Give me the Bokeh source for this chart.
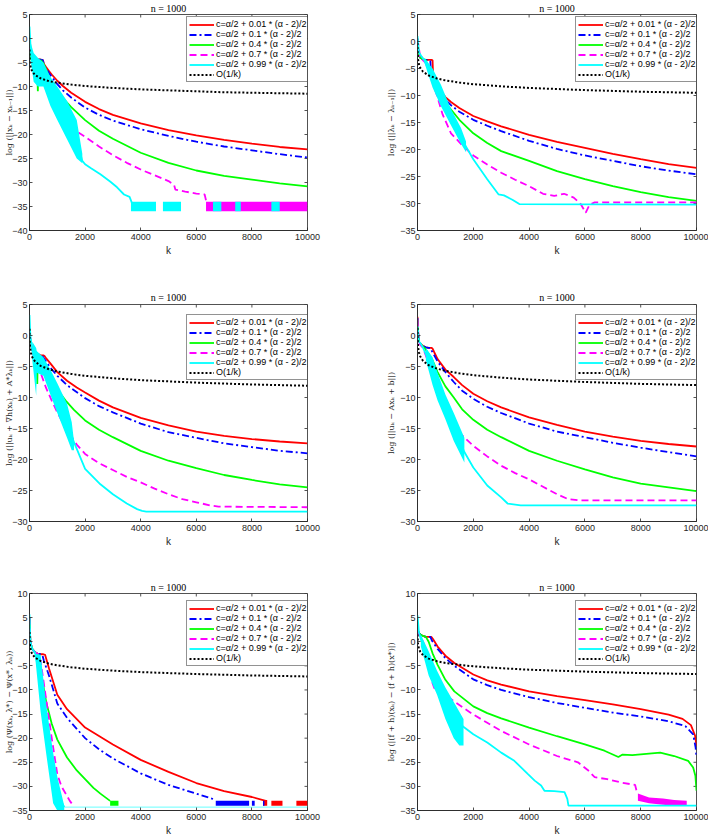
from bokeh.plotting import figure
from bokeh.layouts import column, row
from bokeh.models import Legend, LegendItem, FixedTicker, Range1d
from bokeh.embed import file_html
from bokeh.resources import INLINE

# ---------------- data ----------------
TITLE = "n = 1000"
LEGEND_LABELS = [
    "c=\u03b1/2 + 0.01 * (\u03b1 - 2)/2",
    "c=\u03b1/2 + 0.1 * (\u03b1 - 2)/2",
    "c=\u03b1/2 + 0.4 * (\u03b1 - 2)/2",
    "c=\u03b1/2 + 0.7 * (\u03b1 - 2)/2",
    "c=\u03b1/2 + 0.99 * (\u03b1 - 2)/2",
    "O(1/k)",
]
X_TICKS = [0, 2000, 4000, 6000, 8000, 10000]
BLACK_K = [1, 5, 20, 50, 100, 200, 400, 700, 1000, 1500, 2000, 3000, 4000, 5000, 6000, 7000, 8000, 9000, 10000]

# ---- panel 1 : log(||x_k - x_{k-1}||)
P1_YLABEL = "log (||x\u2096 \u2212 x\u2096\u208b\u2081||)"
P1_YTICKS = [-40, -35, -30, -25, -20, -15, -10, -5, 0, 5]
P1_BLACK_Y = [-2.3, -3.9, -5.3, -6.2, -6.9, -7.6, -8.3, -8.9, -9.2, -9.6, -9.9, -10.3, -10.6, -10.8, -11.0, -11.2, -11.3, -11.4, -11.5]
P1_RED_K = [0, 50, 100, 200, 300, 400, 480, 520, 600, 700, 800, 1000, 1200, 1500, 2000, 2500, 3000, 4000, 5000, 6000, 7000, 8000, 9000, 10000]
P1_RED_Y = [-2.0, -3.5, -4.0, -4.2, -4.3, -4.4, -4.5, -5.3, -6.0, -6.8, -7.5, -8.8, -9.9, -11.3, -13.2, -14.7, -15.9, -17.7, -19.1, -20.2, -21.1, -21.9, -22.6, -23.1]
P1_BLUE_K = P1_RED_K
P1_BLUE_Y = [-2.5, -3.5, -4.0, -4.2, -4.3, -4.4, -4.5, -5.4, -6.3, -7.2, -8.0, -9.5, -10.8, -12.3, -14.4, -15.9, -17.1, -18.9, -20.3, -21.5, -22.5, -23.3, -24.1, -24.8]
P1_GREEN_K = [0, 50, 100, 200, 280, 300, 320, 400, 500, 600, 700, 800, 1000, 1200, 1500, 2000, 2500, 3000, 4000, 5000, 6000, 7000, 8000, 9000, 10000]
P1_GREEN_Y = [-2.5, -4.0, -5.0, -5.5, -6.0, -11.0, -5.5, -4.5, -5.2, -6.5, -8.0, -9.0, -10.8, -12.4, -14.3, -17.0, -19.2, -20.9, -23.8, -25.9, -27.5, -28.6, -29.4, -30.2, -30.8]
P1_MAG_K = [0, 100, 200, 300, 400, 500, 700, 1000, 1300, 1600, 2000, 2500, 3000, 3500, 4000, 4500, 5000, 5200, 5250, 5600, 6000, 6300, 6380]
P1_MAG_Y = [-2.0, -4.0, -5.5, -7.0, -8.5, -9.5, -11.5, -14.5, -17.0, -19.0, -20.5, -22.5, -24.3, -25.9, -27.3, -28.5, -29.7, -30.5, -31.5, -31.9, -32.3, -32.5, -34.5]
P1_MAG_NOISE_START = [6350]
P1_MAG_NOISE_END = [10000]
P1_MAG_NOISE_LO = [-36.0]
P1_MAG_NOISE_HI = [-34.0]
P1_CYAN_K = [0, 50, 150, 300, 500, 750, 1000, 1350, 1700, 1900, 2000, 2200, 2550, 2900, 3150, 3400, 3600, 3700]
P1_CYAN_Y = [2.5, -3.0, -6.0, -7.0, -7.5, -11.0, -13.5, -17.0, -21.0, -25.5, -26.2, -27.0, -28.3, -29.8, -31.0, -32.5, -33.0, -34.5]
P1_CYAN_BAND_K = [0, 50, 150, 300, 500, 750, 1000, 1350, 1700, 1900]
P1_CYAN_BAND_HI = [2.5, -1.0, -3.0, -4.0, -5.0, -8.0, -10.0, -13.0, -17.0, -24.0]
P1_CYAN_BAND_LO = [2.0, -5.0, -9.0, -10.0, -10.0, -14.0, -17.0, -21.0, -25.0, -26.0]
P1_CYAN_NOISE_START = [3650, 4800, 6600, 7400, 8700]
P1_CYAN_NOISE_END = [4550, 5450, 6900, 7600, 9000]
P1_CYAN_NOISE_LO = [-36.0, -36.0, -36.0, -36.0, -36.0]
P1_CYAN_NOISE_HI = [-34.0, -34.0, -34.0, -34.0, -34.0]

# ---- panel 2 : log(||lambda_k - lambda_{k-1}||)
P2_YLABEL = "log (||\u03bb\u2096 \u2212 \u03bb\u2096\u208b\u2081||)"
P2_YTICKS = [-35, -30, -25, -20, -15, -10, -5, 0, 5]
P2_BLACK_Y = [-0.3, -1.9, -3.3, -4.2, -4.9, -5.6, -6.3, -6.85, -7.2, -7.6, -7.9, -8.3, -8.6, -8.8, -9.0, -9.15, -9.3, -9.4, -9.5]
P2_RED_K = [0, 20, 50, 100, 200, 300, 400, 500, 540, 560, 600, 700, 800, 1000, 1200, 1500, 2000, 2500, 3000, 4000, 5000, 6000, 7000, 8000, 9000, 10000]
P2_RED_Y = [0.5, -2.0, -2.5, -3.0, -3.3, -3.4, -3.4, -3.4, -3.5, -6.5, -7.4, -8.2, -8.9, -10.3, -11.2, -12.3, -13.8, -14.8, -15.7, -17.3, -18.6, -19.7, -20.8, -21.8, -22.7, -23.4]
P2_BLUE_K = [0, 20, 50, 100, 200, 300, 400, 460, 480, 520, 600, 700, 800, 1000, 1200, 1500, 2000, 2500, 3000, 4000, 5000, 6000, 7000, 8000, 9000, 10000]
P2_BLUE_Y = [0.5, -2.0, -2.5, -3.0, -3.3, -3.4, -3.5, -3.6, -5.5, -7.0, -7.6, -8.5, -9.4, -10.8, -11.8, -13.0, -14.5, -15.6, -16.6, -18.4, -19.9, -21.1, -22.1, -23.1, -23.9, -24.6]
P2_GREEN_K = [0, 50, 100, 200, 300, 400, 500, 600, 800, 1000, 1200, 1500, 2000, 2500, 3000, 4000, 5000, 6000, 7000, 8000, 9000, 10000]
P2_GREEN_Y = [0.5, -2.5, -3.0, -3.3, -3.5, -5.0, -6.3, -7.5, -9.6, -11.3, -12.6, -14.5, -17.0, -18.8, -20.3, -22.1, -24.0, -25.5, -26.8, -27.9, -28.8, -29.5]
P2_MAG_K = [0, 100, 300, 500, 700, 900, 1200, 1600, 2000, 2500, 3000, 3500, 4000, 4500, 4900, 5250, 5600, 5850, 6030, 6170, 6350, 10000]
P2_MAG_Y = [0.5, -3.0, -4.0, -7.0, -10.0, -13.5, -17.0, -19.2, -21.1, -22.8, -24.3, -25.6, -26.8, -28.2, -28.6, -28.2, -28.9, -30.1, -31.7, -30.2, -29.8, -29.8]
P2_CYAN_K = [0, 50, 150, 250, 540, 840, 1200, 1560, 1740, 2000, 2500, 2900, 3100, 3400, 3650, 10000]
P2_CYAN_Y = [1.0, -2.0, -2.8, -3.5, -6.7, -10.0, -14.0, -17.5, -19.5, -21.8, -25.5, -28.3, -28.5, -29.3, -30.1, -30.2]
P2_CYAN_BAND_K = [250, 540, 840, 1200, 1560, 1740]
P2_CYAN_BAND_HI = [-3.0, -5.0, -8.0, -12.5, -16.0, -18.5]
P2_CYAN_BAND_LO = [-4.0, -8.5, -12.0, -15.5, -19.0, -20.5]

# ---- panel 3 : log(||u_k + grad h(x_k) + A* lambda_k||)
P3_YLABEL = "log (||u\u2096 + \u2207h(x\u2096) + A*\u03bb\u2096||)"
P3_YTICKS = [-30, -25, -20, -15, -10, -5, 0, 5]
P3_BLACK_Y = [1.1, -0.5, -1.9, -2.8, -3.5, -4.2, -4.9, -5.45, -5.8, -6.2, -6.5, -6.9, -7.2, -7.4, -7.6, -7.75, -7.9, -8.0, -8.1]
P3_RED_K = [0, 50, 100, 200, 300, 400, 500, 540, 600, 750, 1000, 1350, 1700, 2000, 2500, 3000, 4000, 5000, 6000, 7000, 8000, 9000, 10000]
P3_RED_Y = [0.5, -1.5, -2.3, -2.8, -3.0, -3.2, -3.2, -3.3, -3.7, -4.5, -5.9, -7.3, -8.4, -9.2, -10.5, -11.6, -13.3, -14.5, -15.5, -16.2, -16.7, -17.1, -17.4]
P3_BLUE_K = [0, 50, 100, 200, 300, 400, 460, 500, 600, 750, 1000, 1350, 2000, 2500, 3000, 4000, 5000, 6000, 7000, 8000, 9000, 10000]
P3_BLUE_Y = [0.5, -1.5, -2.3, -2.8, -3.0, -3.2, -3.2, -3.6, -4.2, -5.2, -6.5, -8.0, -10.1, -11.4, -12.4, -14.2, -15.6, -16.5, -17.4, -18.0, -18.6, -19.0]
P3_GREEN_K = [0, 50, 100, 200, 260, 280, 300, 350, 400, 450, 550, 750, 1000, 1300, 1600, 2000, 2500, 3000, 4000, 5000, 6000, 7000, 8000, 9000, 10000]
P3_GREEN_Y = [0.5, -1.5, -2.3, -2.8, -3.0, -7.8, -3.0, -3.2, -3.5, -4.0, -4.5, -6.5, -8.7, -10.5, -12.0, -13.7, -15.2, -16.4, -18.6, -20.2, -21.4, -22.5, -23.3, -24.0, -24.5]
P3_MAG_K = [0, 100, 200, 400, 600, 800, 1000, 1350, 1700, 2000, 2500, 3000, 3500, 4000, 4500, 5000, 5500, 6000, 6500, 6800, 10000]
P3_MAG_Y = [0.5, -2.5, -4.0, -6.0, -8.5, -10.5, -12.4, -15.3, -17.6, -19.1, -20.6, -21.7, -22.8, -23.7, -24.7, -25.6, -26.4, -26.9, -27.4, -27.6, -27.7]
P3_CYAN_K = [0, 30, 100, 240, 500, 750, 1000, 1350, 1580, 2000, 2550, 3000, 3500, 3870, 4050, 4200, 10000]
P3_CYAN_Y = [3.3, 0.0, -2.5, -4.0, -5.0, -7.5, -10.0, -13.5, -17.0, -21.5, -24.0, -25.6, -27.1, -28.0, -28.3, -28.4, -28.4]
P3_CYAN_BAND_K = [100, 240, 260, 500, 750, 1000, 1350, 1520, 1600]
P3_CYAN_BAND_HI = [-1.0, -2.0, -2.5, -3.5, -5.5, -7.7, -11.0, -14.0, -17.0]
P3_CYAN_BAND_LO = [-4.0, -9.7, -6.0, -6.5, -9.5, -12.5, -16.5, -18.5, -18.5]

# ---- panel 4 : log(||u_k - A x_k + b||)
P4_YLABEL = "log (||u\u2096 \u2212 Ax\u2096 + b||)"
P4_YTICKS = [-30, -25, -20, -15, -10, -5, 0, 5]
P4_BLACK_Y = [1.2, -0.4, -1.8, -2.7, -3.4, -4.1, -4.8, -5.35, -5.7, -6.1, -6.4, -6.8, -7.1, -7.3, -7.5, -7.65, -7.8, -7.9, -8.0]
P4_RED_K = [0, 20, 50, 100, 200, 300, 400, 500, 540, 600, 720, 1000, 1300, 1600, 2000, 2500, 3000, 4000, 5000, 6000, 7000, 8000, 9000, 10000]
P4_RED_Y = [3.0, 0.5, -1.0, -1.3, -1.7, -1.9, -2.0, -2.0, -2.1, -2.7, -3.8, -5.5, -6.7, -8.0, -9.4, -10.6, -11.6, -13.2, -14.4, -15.5, -16.3, -17.0, -17.5, -17.9]
P4_BLUE_K = [0, 20, 50, 100, 200, 300, 400, 460, 500, 600, 720, 1000, 1300, 1600, 2000, 2500, 3000, 4000, 5000, 6000, 7000, 8000, 9000, 10000]
P4_BLUE_Y = [2.8, 0.5, -1.0, -1.3, -1.7, -1.9, -2.0, -2.0, -2.4, -3.2, -4.2, -5.9, -7.5, -8.9, -10.2, -11.5, -12.5, -14.2, -15.5, -16.4, -17.3, -18.1, -18.8, -19.5]
P4_GREEN_K = [0, 20, 50, 100, 200, 250, 300, 400, 540, 720, 1000, 1300, 1600, 2000, 2500, 3000, 4000, 5000, 6000, 7000, 8000, 9000, 10000]
P4_GREEN_Y = [2.5, 0.5, -1.0, -1.3, -1.8, -2.0, -2.3, -3.0, -4.0, -5.9, -8.2, -10.0, -11.9, -13.6, -15.2, -16.4, -18.6, -20.2, -21.6, -22.9, -23.9, -24.5, -25.1]
P4_MAG_K = [0, 50, 100, 200, 400, 600, 800, 1000, 1300, 1600, 2000, 2500, 3000, 3500, 4000, 4500, 5000, 5400, 5800, 10000]
P4_MAG_Y = [2.5, -1.0, -1.5, -2.0, -4.5, -7.5, -10.2, -12.5, -14.5, -16.1, -17.8, -19.5, -21.0, -22.2, -23.2, -24.4, -25.6, -26.4, -26.6, -26.6]
P4_CYAN_K = [0, 50, 100, 200, 300, 540, 720, 1000, 1300, 1680, 2000, 2500, 3000, 3230, 3700, 10000]
P4_CYAN_Y = [1.5, -1.0, -1.2, -2.0, -3.0, -5.7, -8.2, -11.5, -14.7, -18.8, -21.3, -24.2, -26.1, -27.1, -27.4, -27.4]
P4_CYAN_BAND_K = [300, 540, 720, 1000, 1300, 1680]
P4_CYAN_BAND_HI = [-2.0, -3.5, -6.0, -9.5, -12.5, -16.5]
P4_CYAN_BAND_LO = [-4.0, -8.0, -10.5, -13.5, -17.0, -20.5]

# ---- panel 5 : log(Psi(x_k, l*) - Psi(x*, l_k))
P5_YLABEL = "log (\u03a8(x\u2096, \u03bb*) \u2212 \u03a8(x*, \u03bb\u2096))"
P5_YTICKS = [-35, -30, -25, -20, -15, -10, -5, 0, 5, 10]
P5_BLACK_Y = [2.0, 0.4, -1.0, -1.9, -2.6, -3.3, -4.0, -4.55, -4.9, -5.3, -5.6, -6.0, -6.3, -6.5, -6.7, -6.85, -7.0, -7.1, -7.2]
P5_RED_K = [0, 30, 100, 200, 300, 400, 500, 560, 700, 1000, 1350, 2000, 3000, 4000, 5000, 6000, 7000, 8000, 8500]
P5_RED_Y = [5.0, 0.0, -1.5, -2.2, -2.5, -2.6, -2.6, -2.7, -5.5, -11.0, -14.0, -17.8, -21.3, -24.5, -27.0, -29.3, -31.0, -32.2, -33.0]
P5_RED_NOISE_START = [8400, 8700, 9600]
P5_RED_NOISE_END = [8550, 9100, 10000]
P5_RED_NOISE_LO = [-34.0, -34.0, -34.0]
P5_RED_NOISE_HI = [-32.8, -33.0, -33.0]
P5_BLUE_K = [0, 30, 100, 200, 300, 400, 460, 520, 700, 1000, 1350, 2000, 2500, 3000, 4000, 5000, 6000, 6700]
P5_BLUE_Y = [5.0, 0.0, -1.5, -2.2, -2.5, -2.6, -2.7, -4.0, -7.0, -12.8, -15.8, -20.0, -22.3, -24.2, -27.3, -29.7, -31.5, -32.8]
P5_BLUE_NOISE_START = [6700, 8000, 8400]
P5_BLUE_NOISE_END = [7900, 8100, 8450]
P5_BLUE_NOISE_LO = [-34.0, -34.0, -34.0]
P5_BLUE_NOISE_HI = [-33.0, -33.0, -33.0]
P5_GREEN_K = [0, 30, 100, 200, 300, 330, 400, 450, 600, 800, 1000, 1350, 1700, 2000, 2300, 2550, 2900]
P5_GREEN_Y = [5.0, 0.0, -1.5, -2.2, -2.5, -3.0, -5.5, -7.5, -12.5, -17.0, -20.3, -24.0, -26.7, -28.5, -30.3, -31.5, -33.0]
P5_GREEN_NOISE_START = [2900]
P5_GREEN_NOISE_END = [3200]
P5_GREEN_NOISE_LO = [-34.0]
P5_GREEN_NOISE_HI = [-33.0]
P5_MAG_K = [0, 30, 100, 200, 300, 400, 600, 800, 1000, 1150, 1350, 1450, 1550, 1600]
P5_MAG_Y = [5.0, 0.0, -1.5, -2.2, -2.5, -4.0, -12.0, -20.0, -27.5, -30.0, -32.0, -33.0, -33.8, -34.0]
P5_CYAN_K = [0, 30, 100, 200, 400, 600, 850, 1000, 1250]
P5_CYAN_Y = [5.7, 0.0, -1.5, -2.3, -8.0, -18.0, -28.0, -31.5, -34.3]
P5_CYAN_BAND_K = [200, 400, 600, 850, 1000, 1250]
P5_CYAN_BAND_HI = [-2.5, -2.7, -13.0, -23.0, -28.0, -34.0]
P5_CYAN_BAND_LO = [-3.0, -14.5, -23.2, -33.5, -35.0, -35.0]
P5_FLOOR_K = [1250, 10000]
P5_FLOOR_Y = [-34.3, -34.3]

# ---- panel 6 : log(|(f+h)(x_k) - (f+h)(x*)|)
P6_YLABEL = "log (|(f + h)(x\u2096) \u2212 (f + h)(x*)|)"
P6_YTICKS = [-35, -30, -25, -20, -15, -10, -5, 0, 5, 10]
P6_BLACK_Y = [1.5, 0.9, -0.5, -1.4, -2.1, -2.8, -3.5, -4.05, -4.4, -4.8, -5.1, -5.5, -5.8, -6.0, -6.2, -6.35, -6.5, -6.6, -6.7]
P6_RED_K = [0, 50, 100, 200, 300, 400, 500, 560, 720, 1000, 1320, 2000, 2500, 3000, 4000, 5000, 6000, 7000, 8000, 9000, 9500, 9800, 9950, 10000]
P6_RED_Y = [2.5, 1.8, 1.5, 1.2, 1.0, 1.0, 1.0, 0.5, -1.0, -2.9, -4.4, -6.8, -8.0, -8.9, -10.3, -11.3, -12.1, -13.0, -14.0, -15.1, -16.0, -17.3, -19.5, -21.6]
P6_BLUE_K = [0, 50, 100, 200, 300, 400, 460, 520, 720, 1000, 1320, 2000, 2500, 3000, 4000, 5000, 6000, 7000, 8000, 9000, 9600, 9880, 9970, 10000]
P6_BLUE_Y = [2.5, 1.8, 1.5, 1.2, 1.0, 1.0, 1.0, 0.2, -1.5, -3.4, -5.0, -7.8, -9.0, -10.0, -11.5, -12.7, -13.7, -14.7, -15.5, -16.5, -17.5, -19.2, -22.0, -24.0]
P6_GREEN_K = [0, 50, 100, 200, 300, 400, 540, 720, 1000, 1320, 2000, 2500, 3000, 4000, 5000, 6000, 6700, 7200, 7350, 7700, 8300, 8700, 9200, 9700, 9880, 9960, 10000]
P6_GREEN_Y = [2.5, 1.8, 1.5, 1.2, 1.0, 0.0, -2.4, -4.8, -7.9, -10.3, -13.4, -14.8, -15.9, -17.8, -19.6, -21.3, -22.6, -23.9, -23.4, -23.5, -23.2, -23.0, -23.7, -24.7, -26.1, -27.8, -30.9]
P6_MAG_K = [0, 50, 100, 200, 300, 400, 500, 600, 800, 1000, 1320, 2000, 2500, 3000, 4000, 5000, 5750, 6100, 6350, 6800, 7300, 7800, 7880]
P6_MAG_Y = [2.5, 1.5, 1.0, 0.0, -2.0, -5.0, -8.0, -9.6, -10.5, -11.0, -12.4, -15.1, -16.8, -18.5, -21.3, -23.7, -25.0, -26.6, -28.1, -28.5, -29.2, -29.7, -31.6]
P6_MAG_BAND_K = [7900, 8300, 8800, 9200, 9650]
P6_MAG_BAND_HI = [-31.5, -32.3, -32.5, -32.8, -33.0]
P6_MAG_BAND_LO = [-33.0, -33.5, -33.8, -34.0, -34.0]
P6_CYAN_K = [0, 50, 120, 400, 700, 1000, 1300, 1680, 2000, 2500, 3000, 3470, 3950, 4200, 4430, 4550, 4900, 5270, 5370, 5410, 10000]
P6_CYAN_Y = [5.5, 2.0, 0.5, -4.0, -8.5, -12.5, -16.0, -17.8, -19.2, -20.9, -23.0, -24.7, -27.4, -28.8, -29.8, -30.9, -31.0, -31.2, -32.6, -34.0, -34.0]
P6_CYAN_BAND_K = [120, 400, 700, 1000, 1300, 1500, 1650]
P6_CYAN_BAND_HI = [1.5, -2.0, -6.0, -9.5, -12.5, -14.5, -16.0]
P6_CYAN_BAND_LO = [-1.0, -7.0, -11.0, -16.0, -20.0, -21.5, -21.5]

# ---------------- styling ----------------
COLORS = ["#ff0000", "#0000ff", "#00ff00", "#ff00ff", "#00ffff", "#000000"]
DASHES = ["solid", "7 3 2 3", "solid", "7 4", "solid", "2 2"]
AX_COLOR = "#262626"
COL_BORDERS = [(29, 47), (63, 12)]          # (left, right)
YLABEL_STANDOFF = [-5, 1]
ROW_GEOM = [(280, 12, 50, 1), (280, 24, 39, 4), (278, 33, 26, 1)]  # (height, top, bottom, title standoff)
LEG_W, LEG_H = 121, 63
LEG_TOP = [[7, 7], [13, 13], [12, 12]]
TICK_LEN = 3


def style_axis(ax, ticks):
    ax.ticker = FixedTicker(ticks=ticks)
    ax.major_tick_in = TICK_LEN
    ax.major_tick_out = 0
    ax.minor_tick_in = 0
    ax.minor_tick_out = 0
    ax.axis_line_color = AX_COLOR
    ax.axis_line_width = 0.8
    ax.major_tick_line_color = AX_COLOR
    ax.major_tick_line_width = 0.8
    ax.major_label_text_color = AX_COLOR
    ax.major_label_text_font = "Liberation Sans"
    ax.major_label_text_font_size = "9px"
    ax.major_label_standoff = 3


def make_panel(r, c, ylabel, yr, yticks, lines, bands=(), quads=()):
    height, top, bottom, tstand = ROW_GEOM[r]
    left, right = COL_BORDERS[c]
    fw = 354 - left - right
    fh = height - top - bottom
    p = figure(width=354, height=height, output_backend="svg", toolbar_location=None,
               x_range=Range1d(0, 10000), y_range=Range1d(*yr),
               min_border_left=left, min_border_right=right,
               min_border_top=top, min_border_bottom=bottom)
    p.title.text = TITLE
    p.title.align = "center"
    p.title.text_font = "Liberation Serif"
    p.title.text_font_size = "10px"
    p.title.text_font_style = "normal"
    p.title.text_color = "#000000"
    p.title.standoff = tstand
    p.title.offset = 0
    p.grid.visible = False
    p.outline_line_color = AX_COLOR
    p.outline_line_width = 0.8
    p.background_fill_color = "white"
    p.border_fill_color = "white"

    style_axis(p.xaxis[0], X_TICKS)
    style_axis(p.yaxis[0], yticks)
    p.yaxis[0].major_label_standoff = 2
    p.xaxis[0].axis_label = "k"
    p.xaxis[0].axis_label_text_font = "Liberation Sans"
    p.xaxis[0].axis_label_text_font_size = "10px"
    p.xaxis[0].axis_label_text_font_style = "normal"
    p.xaxis[0].axis_label_text_color = AX_COLOR
    p.xaxis[0].axis_label_standoff = 2
    p.yaxis[0].axis_label = ylabel
    p.yaxis[0].axis_label_text_font = "DejaVu Serif"
    p.yaxis[0].axis_label_text_font_size = "8px"
    p.yaxis[0].axis_label_text_font_style = "normal"
    p.yaxis[0].axis_label_text_color = AX_COLOR
    p.yaxis[0].axis_label_standoff = YLABEL_STANDOFF[c]

    # inward ticks on the top and right edges of the box (from the same tick lists)
    ymin, ymax = yr
    dy = TICK_LEN * (ymax - ymin) / fh
    dx = TICK_LEN * 10000 / fw
    p.segment(x0=X_TICKS, y0=[ymax] * len(X_TICKS), x1=X_TICKS, y1=[ymax - dy] * len(X_TICKS),
              line_color=AX_COLOR, line_width=0.8)
    p.segment(x0=[10000] * len(yticks), y0=yticks, x1=[10000 - dx] * len(yticks), y1=yticks,
              line_color=AX_COLOR, line_width=0.8)

    renderers = []
    for i, (kk, yy) in enumerate(lines):
        for (ci, s, e, lo, hi) in quads:
            if ci == i:
                p.quad(left=s, right=e, bottom=lo, top=hi, fill_color=COLORS[ci], line_color=None)
        for (ci, bk, blo, bhi) in bands:
            if ci == i:
                p.varea(x=bk, y1=blo, y2=bhi, fill_color=COLORS[ci])
        rr = p.line(kk, yy, line_color=COLORS[i], line_width=2.0 if i == 5 else 1.8,
                    line_dash=DASHES[i])
        renderers.append(rr)

    legend = Legend(items=[LegendItem(label=LEGEND_LABELS[i], renderers=[renderers[i]]) for i in range(6)])
    legend.location = (fw - LEG_W, fh - LEG_TOP[r][c] - LEG_H)
    legend.label_text_font = "Liberation Sans"
    legend.label_text_font_size = "9px"
    legend.label_text_color = "#000000"
    legend.glyph_width = 25
    legend.glyph_height = 9
    legend.label_height = 9
    legend.label_standoff = 2
    legend.spacing = 0
    legend.padding = 2
    legend.margin = 0
    legend.border_line_color = AX_COLOR
    legend.border_line_width = 0.8
    legend.background_fill_color = "white"
    legend.background_fill_alpha = 1.0
    p.add_layout(legend)
    return p


p1 = make_panel(0, 0, P1_YLABEL, (-40, 5), P1_YTICKS,
                [(P1_RED_K, P1_RED_Y), (P1_BLUE_K, P1_BLUE_Y), (P1_GREEN_K, P1_GREEN_Y),
                 (P1_MAG_K, P1_MAG_Y), (P1_CYAN_K, P1_CYAN_Y), (BLACK_K, P1_BLACK_Y)],
                bands=[(4, P1_CYAN_BAND_K, P1_CYAN_BAND_LO, P1_CYAN_BAND_HI)],
                quads=[(3, P1_MAG_NOISE_START, P1_MAG_NOISE_END, P1_MAG_NOISE_LO, P1_MAG_NOISE_HI),
                       (4, P1_CYAN_NOISE_START, P1_CYAN_NOISE_END, P1_CYAN_NOISE_LO, P1_CYAN_NOISE_HI)])
p2 = make_panel(0, 1, P2_YLABEL, (-35, 5), P2_YTICKS,
                [(P2_RED_K, P2_RED_Y), (P2_BLUE_K, P2_BLUE_Y), (P2_GREEN_K, P2_GREEN_Y),
                 (P2_MAG_K, P2_MAG_Y), (P2_CYAN_K, P2_CYAN_Y), (BLACK_K, P2_BLACK_Y)],
                bands=[(4, P2_CYAN_BAND_K, P2_CYAN_BAND_LO, P2_CYAN_BAND_HI)])
p3 = make_panel(1, 0, P3_YLABEL, (-30, 5), P3_YTICKS,
                [(P3_RED_K, P3_RED_Y), (P3_BLUE_K, P3_BLUE_Y), (P3_GREEN_K, P3_GREEN_Y),
                 (P3_MAG_K, P3_MAG_Y), (P3_CYAN_K, P3_CYAN_Y), (BLACK_K, P3_BLACK_Y)],
                bands=[(4, P3_CYAN_BAND_K, P3_CYAN_BAND_LO, P3_CYAN_BAND_HI)])
p4 = make_panel(1, 1, P4_YLABEL, (-30, 5), P4_YTICKS,
                [(P4_RED_K, P4_RED_Y), (P4_BLUE_K, P4_BLUE_Y), (P4_GREEN_K, P4_GREEN_Y),
                 (P4_MAG_K, P4_MAG_Y), (P4_CYAN_K, P4_CYAN_Y), (BLACK_K, P4_BLACK_Y)],
                bands=[(4, P4_CYAN_BAND_K, P4_CYAN_BAND_LO, P4_CYAN_BAND_HI)])
p5 = make_panel(2, 0, P5_YLABEL, (-35, 10), P5_YTICKS,
                [(P5_RED_K, P5_RED_Y), (P5_BLUE_K, P5_BLUE_Y), (P5_GREEN_K, P5_GREEN_Y),
                 (P5_MAG_K, P5_MAG_Y), (P5_CYAN_K, P5_CYAN_Y), (BLACK_K, P5_BLACK_Y)],
                bands=[(4, P5_CYAN_BAND_K, P5_CYAN_BAND_LO, P5_CYAN_BAND_HI)],
                quads=[(0, P5_RED_NOISE_START, P5_RED_NOISE_END, P5_RED_NOISE_LO, P5_RED_NOISE_HI),
                       (1, P5_BLUE_NOISE_START, P5_BLUE_NOISE_END, P5_BLUE_NOISE_LO, P5_BLUE_NOISE_HI),
                       (2, P5_GREEN_NOISE_START, P5_GREEN_NOISE_END, P5_GREEN_NOISE_LO, P5_GREEN_NOISE_HI)])
p5.line(P5_FLOOR_K, P5_FLOOR_Y, line_color=COLORS[4], line_width=1, line_alpha=0.6)
p6 = make_panel(2, 1, P6_YLABEL, (-35, 10), P6_YTICKS,
                [(P6_RED_K, P6_RED_Y), (P6_BLUE_K, P6_BLUE_Y), (P6_GREEN_K, P6_GREEN_Y),
                 (P6_MAG_K, P6_MAG_Y), (P6_CYAN_K, P6_CYAN_Y), (BLACK_K, P6_BLACK_Y)],
                bands=[(3, P6_MAG_BAND_K, P6_MAG_BAND_LO, P6_MAG_BAND_HI),
                       (4, P6_CYAN_BAND_K, P6_CYAN_BAND_LO, P6_CYAN_BAND_HI)])

layout = column(row(p1, p2), row(p3, p4), row(p5, p6))
open("out.html", "w").write(file_html(layout, INLINE))
